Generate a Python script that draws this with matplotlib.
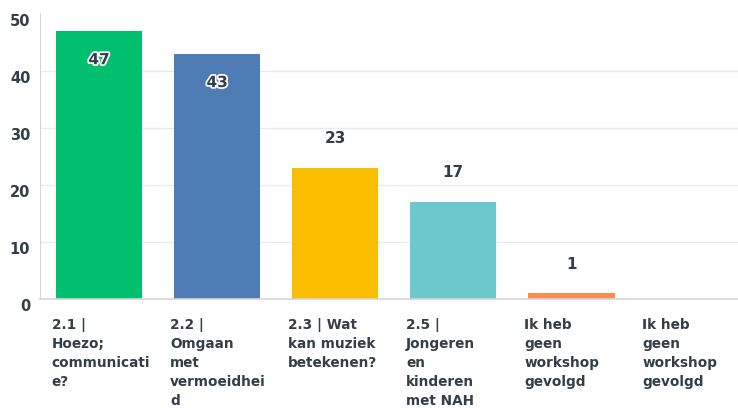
import matplotlib
matplotlib.use("Agg")
import matplotlib.pyplot as plt
import matplotlib.patheffects as pe
from matplotlib.transforms import ScaledTranslation

categories = [
    "2.1 |\nHoezo;\ncommunicati\ne?",
    "2.2 |\nOmgaan\nmet\nvermoeidhei\nd",
    "2.3 | Wat\nkan muziek\nbetekenen?",
    "2.5 |\nJongeren\nen\nkinderen\nmet NAH",
    "Ik heb\ngeen\nworkshop\ngevolgd",
    "Ik heb\ngeen\nworkshop\ngevolgd",
]
values = [47, 43, 23, 17, 1, 0]
colors = ["#00bf6f", "#507cb6", "#f9be00", "#6bc8cd", "#ff8b4f", "#a0a0a0"]
yticks = [0, 10, 20, 30, 40, 50]

plt.rcParams['font.family'] = ['DejaVu Sans']
text_color = "#333e48"

fig = plt.figure(figsize=(7.38, 4.08), dpi=100)
ax = fig.add_axes([40/738, (408-299)/408, (738-40)/738, (299-13)/408])

x = list(range(len(values)))
ax.bar(x, values, width=0.73, color=colors, zorder=3)
ax.set_xlim(-0.5, 5.41)
ax.set_ylim(0, 50.2)

ax.set_yticks(yticks)
ax.set_yticklabels([str(t) for t in yticks], fontsize=10.5, color=text_color, fontweight='bold')
ax.tick_params(axis='y', length=0, pad=7)
ax.tick_params(axis='x', length=0, labelbottom=False)
for lab in ax.get_yticklabels():
    lab.set_transform(lab.get_transform() + ScaledTranslation(0, -6/100, fig.dpi_scale_trans))

ax.grid(axis='y', color="#ebebeb", linewidth=1, zorder=0)
ax.get_ygridlines()[-1].set_visible(False)
for s in ['top', 'right']:
    ax.spines[s].set_visible(False)
ax.spines['left'].set_color("#d6d6d6")
ax.spines['bottom'].set_color("#d6d6d6")
ax.spines['bottom'].set_linewidth(1.2)
ax.spines['bottom'].set_zorder(4)

for i, v in enumerate(values):
    if v <= 0:
        continue
    if v >= 40:
        ax.annotate(str(v), xy=(i, v), xytext=(0, -20.5), textcoords='offset points',
                    ha='center', va='center', fontsize=11, fontweight='bold', color=text_color,
                    path_effects=[pe.withStroke(linewidth=2.5, foreground='white')], zorder=5)
    else:
        ax.annotate(str(v), xy=(i, v), xytext=(0, 21), textcoords='offset points',
                    ha='center', va='center', fontsize=11, fontweight='bold', color=text_color, zorder=5)

for i, c in enumerate(categories):
    ax.annotate(c, xy=(i - 0.40, 0), xycoords=('data', 'axes fraction'),
                xytext=(0, -14), textcoords='offset points', ha='left', va='top',
                fontsize=9.8, fontweight='bold', color=text_color, linespacing=1.45,
                annotation_clip=False)

fig.savefig("out.png", dpi=100)
